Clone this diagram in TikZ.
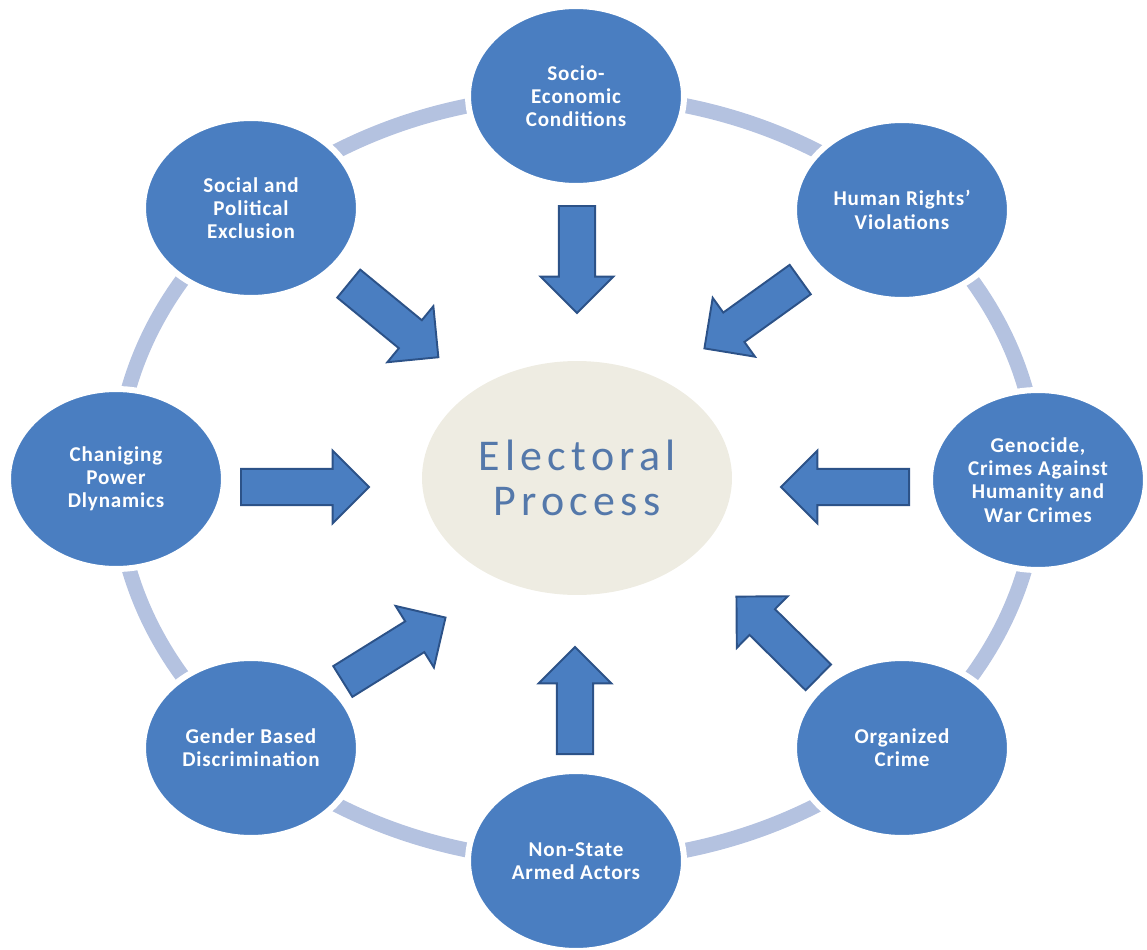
\documentclass[tikz,border=0pt]{standalone}
\usepackage{fontspec}
\setmainfont{Carlito}
\usepackage{tikz}
\usetikzlibrary{shapes.geometric, shapes.arrows}
\definecolor{figblue}{RGB}{74,126,193}
\definecolor{figdark}{RGB}{44,82,136}
\definecolor{figring}{RGB}{180,194,224}
\definecolor{figcream}{RGB}{238,236,226}
\definecolor{figtext}{RGB}{84,120,170}
\tikzstyle{factor} = [ellipse, fill=figblue, draw=white, line width=0.12cm,
minimum width=4.32cm, minimum height=3.6cm, inner sep=0pt,
align=center, text=white,
font=\fontsize{12}{13.2}\selectfont\bfseries\addfontfeatures{LetterSpace=4}]
\tikzstyle{centre} = [ellipse, fill=figcream, minimum width=6.2cm, minimum height=4.68cm,
align=center, text=figtext, font=\fontsize{25}{25.6}\selectfont\addfontfeatures{LetterSpace=12}]
\tikzstyle{blockarrow} = [single arrow, fill=figblue, draw=figdark, line width=1.1pt,
inner xsep=0pt, inner ysep=0.34cm, minimum width=1.45cm, single arrow head extend=0.36cm,
anchor=tail]
\tikzstyle{ring} = [draw=figring, line width=0.3cm]

\begin{document}
\begin{tikzpicture}[x=0.02cm, y=-0.02cm]
    \useasboundingbox (0,0) rectangle (1147,950);
    % ring behind the factors
    \draw[ring] (577,478) ellipse [x radius=461, y radius=383];

    \node (soc) [factor] at (576,96)  {Socio-\\Economic\\Conditions};
    \node (hrv) [factor] at (902,210) {Human Rights'\\Violations};
    \node (gen) [factor] at (1038,480) {Genocide,\\Crimes Against\\Humanity and\\War Crimes};
    \node (ocr) [factor] at (902,748) {Organized\\Crime};
    \node (nsa) [factor] at (576,861) {Non-State\\Armed Actors};
    \node (gbd) [factor] at (251,748) {Gender Based\\Discrimination};
    \node (cpd) [factor] at (116,479) {Chaniging\\Power\\Dlynamics};
    \node (spe) [factor] at (251,208) {Social and\\Political\\Exclusion};

    \node (elec) [centre] at (577,478) {Electoral\\Process};

    % block arrows pointing in, placed by their tails
    \node (a1) [blockarrow, minimum height=2.14cm, rotate=-90]   at (577,205) {};
    \node (a2) [blockarrow, minimum height=2.36cm, rotate=215.7] at (801,279) {};
    \node (a3) [blockarrow, minimum height=2.56cm, rotate=180]   at (910,487) {};
    \node (a4) [blockarrow, minimum height=2.30cm, rotate=135.4] at (819,678) {};
    \node (a5) [blockarrow, minimum height=2.14cm, rotate=90]    at (575,755) {};
    \node (a6) [blockarrow, minimum height=2.42cm, rotate=31.9]  at (342,682) {};
    \node (a7) [blockarrow, minimum height=2.56cm, rotate=0]     at (240,487) {};
    \node (a8) [blockarrow, minimum height=2.32cm, rotate=-39.4] at (348,283) {};
\end{tikzpicture}
\end{document}
